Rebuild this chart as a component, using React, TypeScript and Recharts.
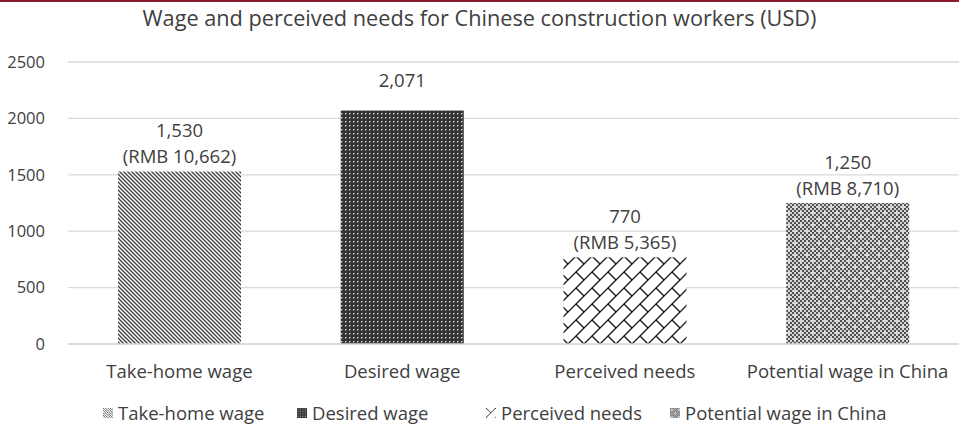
import { Bar, BarChart, CartesianGrid, Cell, LabelList, XAxis, YAxis } from 'recharts'

const categories = ['Take-home wage', 'Desired wage', 'Perceived needs', 'Potential wage in China']
const usdValues = [1530, 2071, 770, 1250]
const usdLabels = ['1,530', '2,071', '770', '1,250']
const rmbLabels = ['(RMB 10,662)', '', '(RMB 5,365)', '(RMB 8,710)']
const yTicks = [0, 500, 1000, 1500, 2000, 2500]
const patternIds = ['p-take', 'p-desired', 'p-needs', 'p-potential']

const data = categories.map((name, i) => ({
  name,
  value: usdValues[i],
  usd: usdLabels[i],
  rmb: rmbLabels[i],
  pattern: patternIds[i],
}))

const FONT = '"Open Sans", sans-serif'
const TEXT = '#404040'
const FS = 18.5
// left edge of each legend swatch
const legendX = [103, 297, 486, 670]

function Patterns({ prefix = '', scale = 1 }: { prefix?: string; scale?: number }) {
  const t = scale === 1 ? undefined : `scale(${scale})`
  return (
    <defs>
      {/* dark downward diagonal */}
      <pattern id={prefix + 'p-take'} width={4} height={4} patternUnits="userSpaceOnUse" patternTransform={t}>
        <rect width={4} height={4} fill="#fff" />
        <path d="M0,0 L4,4 M-1,3 L1,5 M3,-1 L5,1" stroke="#3a3a3a" strokeWidth={1.3} />
      </pattern>
      {/* dark fill with light dots */}
      <pattern id={prefix + 'p-desired'} width={4} height={4} patternUnits="userSpaceOnUse" patternTransform={t}>
        <rect width={4} height={4} fill="#333" />
        <rect x={1} y={1} width={1.4} height={1.4} fill="#e6e6e6" />
      </pattern>
      {/* diagonal brick */}
      <pattern id={prefix + 'p-needs'} width={16} height={16} patternUnits="userSpaceOnUse" patternTransform={t}>
        <rect width={16} height={16} fill="#fff" />
        <path
          d="M0,16 L16,0 M-2,2 L2,-2 M14,18 L18,14 M0,0 L8,8"
          stroke="#1f1f1f"
          strokeWidth={1.4}
          fill="none"
        />
      </pattern>
      {/* fine checker with small white crosses */}
      <pattern id={prefix + 'p-potential'} width={12} height={12} patternUnits="userSpaceOnUse" patternTransform={t}>
        <rect width={12} height={12} fill="#d4d4d4" />
        {[0, 4, 8].map((y) =>
          [0, 4, 8].map((x) => (
            <g key={`${x}-${y}`}>
              <rect x={x} y={y} width={2} height={2} fill="#505050" />
              <rect x={x + 2} y={y + 2} width={2} height={2} fill="#505050" />
            </g>
          )),
        )}
        <rect x={2.5} y={1.5} width={1} height={3} fill="#fff" />
        <rect x={1.5} y={2.5} width={3} height={1} fill="#fff" />
        <rect x={8.5} y={7.5} width={1} height={3} fill="#fff" />
        <rect x={7.5} y={8.5} width={3} height={1} fill="#fff" />
      </pattern>
    </defs>
  )
}

function BarLabel(props: any) {
  const { x, y, width, index } = props
  const cx = x + width / 2
  const d = data[index]
  const common = {
    x: cx,
    textAnchor: 'middle' as const,
    dominantBaseline: 'central' as const,
    fontSize: FS,
    fontFamily: FONT,
    fill: TEXT,
  }
  if (!d.rmb) {
    return <text {...common} y={y - 31}>{d.usd}</text>
  }
  return (
    <g>
      <text {...common} y={y - 42}>{d.usd}</text>
      <text {...common} y={y - 16}>{d.rmb}</text>
    </g>
  )
}

export default function App() {
  return (
    <div style={{ position: 'absolute', left: 0, top: 0, width: 959, height: 429, background: '#fff', fontFamily: FONT }}>
      <div style={{ position: 'absolute', left: 0, top: 0, width: 959, height: 2, background: '#8b1a2b' }} />
      <div
        style={{
          position: 'absolute',
          left: 0,
          top: 3,
          width: 959,
          textAlign: 'center',
          fontSize: 21.7,
          color: TEXT,
          lineHeight: '30px',
        }}
      >
        Wage and perceived needs for Chinese construction workers (USD)
      </div>
      <BarChart
        width={959}
        height={429}
        data={data}
        margin={{ top: 62, right: 0, bottom: 45, left: 0 }}
        barCategoryGap={0}
        style={{ position: 'absolute', left: 0, top: 0 }}
      >
        <Patterns />
        <CartesianGrid vertical={false} stroke="#d9d9d9" strokeWidth={1.3} />
        <XAxis
          dataKey="name"
          height={40}
          axisLine={{ stroke: '#d9d9d9', strokeWidth: 1.3 }}
          tickLine={false}
          tickSize={0}
          tickMargin={21}
          tick={{ fontSize: FS, fill: TEXT, fontFamily: FONT }}
        />
        <YAxis
          width={68}
          domain={[0, 2500]}
          ticks={yTicks}
          axisLine={false}
          tickLine={false}
          tickSize={0}
          tickMargin={23}
          tick={{ fontSize: 16.5, fill: TEXT, fontFamily: FONT }}
        />
        <Bar dataKey="value" barSize={123} isAnimationActive={false}>
          {data.map((d) => (
            <Cell key={d.name} fill={`url(#${d.pattern})`} />
          ))}
          <LabelList dataKey="value" content={BarLabel} />
        </Bar>
      </BarChart>
      <svg width={0} height={0} style={{ position: 'absolute' }}>
        <Patterns prefix="lg-" scale={0.6} />
      </svg>
      {data.map((d, i) => (
        <div
          key={d.name}
          style={{
            position: 'absolute',
            left: legendX[i],
            top: 399,
            display: 'flex',
            alignItems: 'center',
            gap: 5,
            fontSize: FS,
            color: TEXT,
            lineHeight: '28px',
            whiteSpace: 'nowrap',
          }}
        >
          <svg width={10} height={10}>
            <rect width={10} height={10} fill={`url(#lg-${d.pattern})`} />
          </svg>
          <span>{d.name}</span>
        </div>
      ))}
    </div>
  )
}
